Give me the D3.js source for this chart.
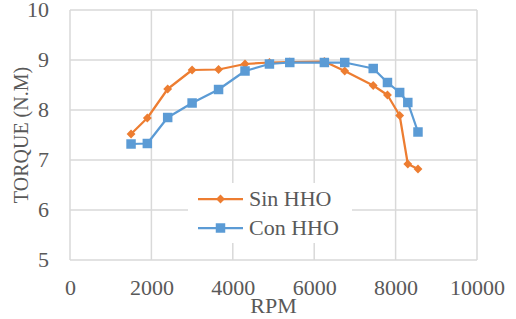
<!DOCTYPE html>
<html>
<head>
<meta charset="utf-8">
<script src="https://cdn.jsdelivr.net/npm/d3@7"></script>
<style>
  body { margin: 0; background: #fff; }
</style>
</head>
<body>
<script>
// DATA
const rpm = [1500, 1900, 2400, 3000, 3650, 4300, 4900, 5400, 6250, 6750, 7450, 7800, 8100, 8300, 8550];
const sinHHO = [7.52, 7.84, 8.42, 8.80, 8.81, 8.92, 8.95, 8.96, 8.97, 8.78, 8.49, 8.30, 7.89, 6.92, 6.82];
const conHHO = [7.32, 7.33, 7.85, 8.14, 8.41, 8.78, 8.92, 8.95, 8.95, 8.95, 8.83, 8.55, 8.35, 8.15, 7.56];
const xTicks = [0, 2000, 4000, 6000, 8000, 10000];
const yTicks = [5, 6, 7, 8, 9, 10];
const seriesNames = ["Sin HHO", "Con HHO"];

// SIZES
const svgwidth = 516, svgheight = 319;
const margin = { top: 10, right: 39, bottom: 59, left: 70 };
const graphwidth = svgwidth - margin.left - margin.right;
const graphheight = svgheight - margin.top - margin.bottom;
const stretch = "scale(1.1,1)";
const font = "'Liberation Serif', 'Times New Roman', serif";
const textColor = "#595959";
const gridColor = "#d9d9d9";
const colors = ["#ED7D31", "#5B9BD5"];

const X = d3.scaleLinear().domain([0, 10000]).range([0, graphwidth]);
const Y = d3.scaleLinear().domain([5, 10]).range([graphheight, 0]);

const svg = d3.select("body").append("svg")
  .attr("width", svgwidth)
  .attr("height", svgheight)
  .attr("font-family", font);
svg.append("rect").attr("width", svgwidth).attr("height", svgheight).attr("fill", "#fff");

const graph = svg.append("g")
  .attr("transform", `translate(${margin.left},${margin.top})`);

// GRIDLINES
graph.selectAll(".hgrid").data(yTicks).enter().append("line")
  .attr("x1", 0).attr("x2", graphwidth)
  .attr("y1", d => Y(d)).attr("y2", d => Y(d))
  .attr("stroke", gridColor).attr("stroke-width", 1.5);
graph.selectAll(".vgrid").data(xTicks).enter().append("line")
  .attr("y1", 0).attr("y2", graphheight)
  .attr("x1", d => X(d)).attr("x2", d => X(d))
  .attr("stroke", gridColor).attr("stroke-width", 1.5);

// AXES (labels only)
const yAxis = graph.append("g")
  .call(d3.axisLeft(Y).tickValues(yTicks).tickFormat(d3.format("d")).tickSize(0).tickPadding(19))
  .attr("font-family", font).attr("font-size", 20);
yAxis.select(".domain").remove();
yAxis.selectAll("text").attr("fill", textColor)
  .attr("transform", stretch).attr("dy", "0.34em");

const xAxis = graph.append("g").attr("transform", `translate(0,${graphheight})`)
  .call(d3.axisBottom(X).tickValues(xTicks).tickFormat(d3.format("d")).tickSize(0).tickPadding(21))
  .attr("font-family", font).attr("font-size", 20);
xAxis.select(".domain").remove();
xAxis.selectAll("text").attr("fill", textColor)
  .attr("transform", stretch);

// AXIS TITLES
svg.append("text")
  .attr("transform", `translate(${margin.left + graphwidth / 2},313) ${stretch}`)
  .attr("text-anchor", "middle").attr("font-size", 20).attr("fill", textColor)
  .text("RPM");
svg.append("text")
  .attr("transform", `translate(28,${margin.top + graphheight / 2}) rotate(-90)`)
  .attr("text-anchor", "middle").attr("font-size", 20).attr("fill", textColor)
  .text("TORQUE (N.M)");

// LINES + MARKERS
const line = d3.line().x(d => X(d[0])).y(d => Y(d[1]));
const series = [sinHHO, conHHO].map(vals => rpm.map((r, i) => [r, vals[i]]));

const diamond = d3.symbol().type(d3.symbolDiamond2).size(50);
const square = d3.symbol().type(d3.symbolSquare).size(90);
const shapes = [diamond, square];

series.forEach((pts, k) => {
  graph.append("path").datum(pts)
    .attr("d", line).attr("fill", "none")
    .attr("stroke", colors[k]).attr("stroke-width", 2.25)
    .attr("stroke-linejoin", "round");
  graph.selectAll(".pt" + k).data(pts).enter().append("path")
    .attr("d", shapes[k])
    .attr("transform", d => `translate(${X(d[0])},${Y(d[1])})`)
    .attr("fill", colors[k]);
});

// LEGEND
const legend = svg.append("g").attr("transform", "translate(188,183)");
legend.append("rect").attr("width", 164).attr("height", 60).attr("fill", "#fff");
seriesNames.forEach((name, k) => {
  const ly = 16 + k * 29;
  legend.append("line").attr("x1", 10).attr("x2", 55).attr("y1", ly).attr("y2", ly)
    .attr("stroke", colors[k]).attr("stroke-width", 2.25);
  legend.append("path").attr("d", shapes[k])
    .attr("transform", `translate(32.5,${ly})`).attr("fill", colors[k]);
  legend.append("text")
    .attr("transform", `translate(61,${ly + 7}) ${stretch}`)
    .attr("font-size", 20).attr("fill", textColor)
    .text(name);
});
</script>
</body>
</html>
